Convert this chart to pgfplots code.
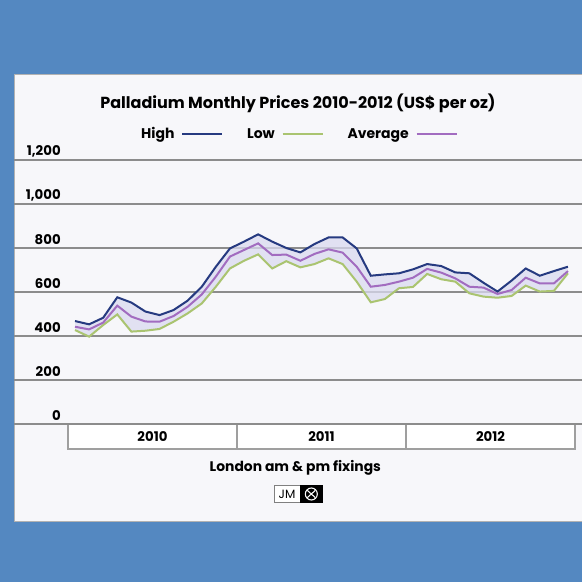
\documentclass[border=0pt]{standalone}
\usepackage{fontspec}
\setmainfont{Poppins}
\usepackage{pgfplots}
\usepackage{pgfplotstable}
\pgfplotsset{compat=1.18}
\definecolor{bgblue}{RGB}{84,136,193}
\definecolor{panel}{RGB}{247,247,250}
\definecolor{hicol}{RGB}{38,58,128}
\definecolor{locol}{RGB}{170,196,112}
\definecolor{avcol}{RGB}{162,108,192}
\definecolor{fillcol}{RGB}{218,218,240}
\definecolor{gridcol}{RGB}{140,140,140}

\pgfplotstableread{
x high low avg
0.5 468 427 442
1.5 453 397 430
2.5 483 450 461
3.5 576 498 538
4.5 552 420 488
5.5 511 424 466
6.5 495 432 465
7.5 518 465 491
8.5 561 503 533
9.5 624 548 589
10.5 715 624 670
11.5 798 707 761
12.5 829 742 791
13.5 862 771 821
14.5 829 707 768
15.5 800 740 770
16.5 780 712 742
17.5 818 727 773
18.5 848 753 794
19.5 848 727 779
20.5 798 647 715
21.5 674 553 624
22.5 680 568 632
23.5 685 617 647
24.5 703 623 665
25.5 727 682 705
26.5 718 658 688
27.5 689 647 662
28.5 685 594 624
29.5 642 579 620
30.5 602 574 591
31.5 652 582 609
32.5 707 629 665
33.5 674 602 639
34.5 695 605 639
35.5 715 685 695
}\prices

% high-low band outline: high forward, low backward
\pgfplotstableread{
x y
0.5 468
1.5 453
2.5 483
3.5 576
4.5 552
5.5 511
6.5 495
7.5 518
8.5 561
9.5 624
10.5 715
11.5 798
12.5 829
13.5 862
14.5 829
15.5 800
16.5 780
17.5 818
18.5 848
19.5 848
20.5 798
21.5 674
22.5 680
23.5 685
24.5 703
25.5 727
26.5 718
27.5 689
28.5 685
29.5 642
30.5 602
31.5 652
32.5 707
33.5 674
34.5 695
35.5 715
35.5 685
34.5 605
33.5 602
32.5 629
31.5 582
30.5 574
29.5 579
28.5 594
27.5 647
26.5 658
25.5 682
24.5 623
23.5 617
22.5 568
21.5 553
20.5 647
19.5 727
18.5 753
17.5 727
16.5 712
15.5 740
14.5 707
13.5 771
12.5 742
11.5 707
10.5 624
9.5 548
8.5 503
7.5 465
6.5 432
5.5 424
4.5 420
3.5 498
2.5 450
1.5 397
0.5 427
}\band

\begin{document}
\begin{tikzpicture}
\fill[bgblue] (0,0) rectangle (436.5pt,436.5pt);
\fill[panel] (10.5pt,45.75pt) rectangle (436.5pt,381pt);
\draw[gray!60, line width=0.6pt] (437pt,45.75pt) -- (10.5pt,45.75pt) -- (10.5pt,381pt) -- (437pt,381pt);
\begin{axis}[
  at={(10.5pt,118.5pt)}, anchor=south west,
  scale only axis, width=426pt, height=198pt,
  xmin=-3.834, xmax=36.497, ymin=0, ymax=1200,
  axis line style={draw=none},
  tick style={draw=none},
  xtick=\empty,
  ytick={0,200,400,600,800,1000,1200},
  ymajorgrids=true,
  y grid style={gridcol, line width=1.1pt},
  /pgf/number format/assume math mode=true,
  /pgf/number format/1000 sep={,},
  yticklabel style={anchor=south east, inner sep=0pt, xshift=35.25pt, yshift=2.2pt, font=\bfseries\fontsize{10}{12}\selectfont},
  clip=false,
  legend columns=3,
  legend plot pos=right,
  legend style={at={(0.5,1.098)}, anchor=center, draw=none, fill=none,
    font=\bfseries\fontsize{10.5}{12}\selectfont,
    /tikz/every odd column/.append style={column sep=3pt},
    /tikz/every even column/.append style={column sep=16pt}},
  legend image code/.code={\draw[#1] (0pt,0pt) -- (30pt,0pt);},
]
\addplot[fill=fillcol, fill opacity=0.75, draw=none, forget plot] table[x=x,y=y]{\band} -- cycle;
\addplot[hicol, line width=1.5pt] table[x=x,y=high]{\prices};
\addlegendentry{High}
\addplot[locol, line width=1.5pt] table[x=x,y=low]{\prices};
\addlegendentry{Low}
\addplot[avcol, line width=1.5pt] table[x=x,y=avg]{\prices};
\addlegendentry{Average}
\draw[gray!75, line width=0.8pt, fill=white] (axis cs:0,0) rectangle (axis cs:12,-113.6);
\draw[gray!75, line width=0.8pt, fill=white] (axis cs:12,0) rectangle (axis cs:24,-113.6);
\draw[gray!75, line width=0.8pt, fill=white] (axis cs:24,0) rectangle (axis cs:36,-113.6);
\draw[gridcol, line width=1.1pt] (axis cs:-3.834,0) -- (axis cs:36.497,0);
\node[font=\bfseries\fontsize{10}{12}\selectfont] at (axis cs:6,-57) {2010};
\node[font=\bfseries\fontsize{10}{12}\selectfont] at (axis cs:18,-57) {2011};
\node[font=\bfseries\fontsize{10}{12}\selectfont] at (axis cs:30,-57) {2012};
\end{axis}
\node[font=\bfseries\fontsize{12}{14}\selectfont] at (223.5pt,359.25pt) {Palladium Monthly Prices 2010-2012 (US\$ per oz)};
\node[font=\bfseries\fontsize{10.4}{12}\selectfont] at (221.5pt,85.5pt) {London am \& pm fixings};
\draw[gray, line width=0.5pt, fill=white] (205.5pt,59.5pt) rectangle (225pt,72.5pt);
\node[font=\fontsize{9}{9}\selectfont, inner sep=0pt] at (215.25pt,66pt) {JM};
\fill[black] (225pt,59.5pt) rectangle (242pt,72.5pt);
\draw[white, line width=0.8pt] (233.5pt,66pt) circle (4.5pt);
\draw[white, line width=0.8pt] (230.5pt,68.7pt) -- (236.5pt,63.3pt) (236.5pt,68.7pt) -- (230.5pt,63.3pt);
\pgfresetboundingbox
\path[use as bounding box] (0,0) rectangle (436.5pt,436.5pt);
\end{tikzpicture}
\end{document}
